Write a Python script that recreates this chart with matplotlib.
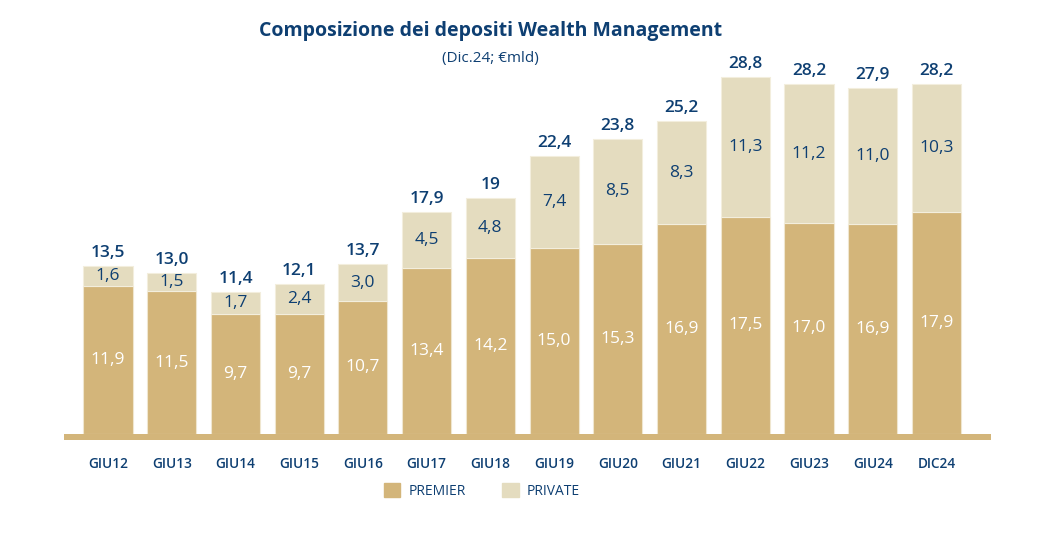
import matplotlib
matplotlib.use("Agg")
import matplotlib.pyplot as plt
from matplotlib.patches import Patch

plt.rcParams['font.family'] = ['Open Sans', 'DejaVu Sans']

periods = ['GIU12', 'GIU13', 'GIU14', 'GIU15', 'GIU16', 'GIU17', 'GIU18',
           'GIU19', 'GIU20', 'GIU21', 'GIU22', 'GIU23', 'GIU24', 'DIC24']
premier = [11.9, 11.5, 9.7, 9.7, 10.7, 13.4, 14.2, 15.0, 15.3, 16.9, 17.5, 17.0, 16.9, 17.9]
private = [1.6, 1.5, 1.7, 2.4, 3.0, 4.5, 4.8, 7.4, 8.5, 8.3, 11.3, 11.2, 11.0, 10.3]
totals = ['13,5', '13,0', '11,4', '12,1', '13,7', '17,9', '19',
          '22,4', '23,8', '25,2', '28,8', '28,2', '27,9', '28,2']

col_premier = '#d3b57a'
col_private = '#e4dcbf'
col_text = '#0e3f72'

fig = plt.figure(figsize=(10.43, 5.33), dpi=100)
ax = fig.add_axes([0.0614, 0.1745, 0.889, 0.756])

x = list(range(len(periods)))
ax.bar(x, premier, width=0.77, color=col_premier, edgecolor='#efe6cf', linewidth=0.8)
ax.bar(x, private, width=0.77, bottom=premier, color=col_private,
       edgecolor='#f3eedd', linewidth=0.8)

for i in x:
    ax.text(i, premier[i] / 2, f'{premier[i]:.1f}'.replace('.', ','), ha='center', va='center',
            color='white', fontsize=12.5, fontweight='medium')
    ax.text(i, premier[i] + private[i] / 2, f'{private[i]:.1f}'.replace('.', ','),
            ha='center', va='center', color=col_text, fontsize=12.5, fontweight='medium')
    ax.text(i, premier[i] + private[i] + 0.4, totals[i], ha='center', va='bottom',
            color=col_text, fontsize=12.5, fontweight='semibold')

# base band
ax.axhspan(-0.5, 0, color=col_premier, lw=0)

ax.set_xlim(-0.69, 13.86)
ax.set_ylim(-0.5, 32)
ax.set_xticks(x)
ax.set_xticklabels(periods, fontsize=9.8, color=col_text, fontweight='semibold')
ax.tick_params(axis='x', length=0, pad=12)
ax.set_yticks([])
for s in ax.spines.values():
    s.set_visible(False)

fig.text(0.47, 0.942, 'Composizione dei depositi Wealth Management', ha='center', va='center',
         fontsize=14, fontweight='bold', color=col_text)
fig.text(0.47, 0.891, '(Dic.24; €mld)', ha='center', va='center', fontsize=11, color=col_text)

handles = [Patch(color=col_premier, label='PREMIER'), Patch(color=col_private, label='PRIVATE')]
leg = fig.legend(handles=handles, loc='center', bbox_to_anchor=(0.462, 0.079), ncol=2,
                 frameon=False, fontsize=10, handlelength=1.2, handleheight=1.2,
                 columnspacing=2.6, handletextpad=0.6)
for t in leg.get_texts():
    t.set_color(col_text)

fig.savefig('out.png', dpi=100)
